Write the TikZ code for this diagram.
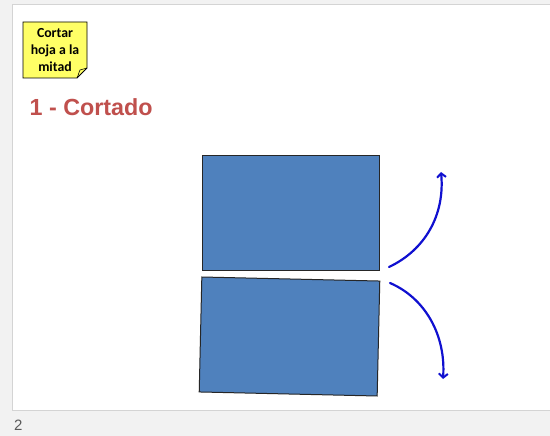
\documentclass[tikz,border=0pt]{standalone}
\usepackage{fontspec}
\setmainfont{Liberation Sans}
\newfontfamily\notefont{Carlito}
\usetikzlibrary{arrows.meta}
\definecolor{pagebg}{HTML}{F2F2F2}
\definecolor{slideborder}{HTML}{D4D4D4}
\definecolor{noteyellow}{HTML}{FFFF66}
\definecolor{titlered}{HTML}{C0504D}
\definecolor{paperblue}{HTML}{4F81BD}
\definecolor{arrowblue}{HTML}{1010D0}
\definecolor{numgray}{HTML}{595959}
\tikzset{
  paper/.style={draw=black!85, line width=1pt, fill=paperblue, minimum width=177pt, minimum height=114pt, inner sep=0pt},
  cutarrow/.style={draw=arrowblue, line width=2.2pt, line cap=round, -{Straight Barb[length=4pt,width=9pt,line width=2pt]}},
}
\begin{document}
\begin{tikzpicture}[x=1pt,y=-1pt]
\useasboundingbox (0,0) rectangle (550,436);
\fill[pagebg] (0,0) rectangle (550,436);
\draw[slideborder, fill=white, line width=0.8pt] (12.5,4.5) rectangle (551,410);
% sticky note
\draw[fill=noteyellow, line width=0.8pt] (23,22) -- (87,22) -- (87,68) -- (77,78) -- (23,78) -- cycle;
\draw[line width=0.6pt] (77,78) .. controls (79,74) and (79,71) .. (80,70) -- (87,68);
\node[font=\notefont\bfseries\fontsize{13.8}{17}\selectfont, align=center, inner sep=0pt] (note) at (55,50.5) {Cortar\\hoja a la\\mitad};
% title
\node[anchor=base west, text=titlered, font=\bfseries\fontsize{23.3}{25}\selectfont, inner sep=0pt] (title) at (29.5,116) {1 - Cortado};
% papers
\node[paper] (top) at (290.5,213) {};
\node[paper, minimum width=178pt, minimum height=115pt, rotate=-1.3] (bottom) at (289.5,336.5) {};
% arrows
\coordinate (upstart) at (389,267);
\coordinate (upend) at (441,172);
\coordinate (downstart) at (390,283);
\coordinate (downend) at (443,379);
\draw[cutarrow] (upstart) .. controls (425,250) and (445,215) .. (upend);
\draw[cutarrow] (downstart) .. controls (425,298) and (446,335) .. (downend);
% page number
\node[anchor=base west, text=numgray, font=\fontsize{15}{17}\selectfont, inner sep=0pt] (num) at (14,430) {2};
\end{tikzpicture}
\end{document}
